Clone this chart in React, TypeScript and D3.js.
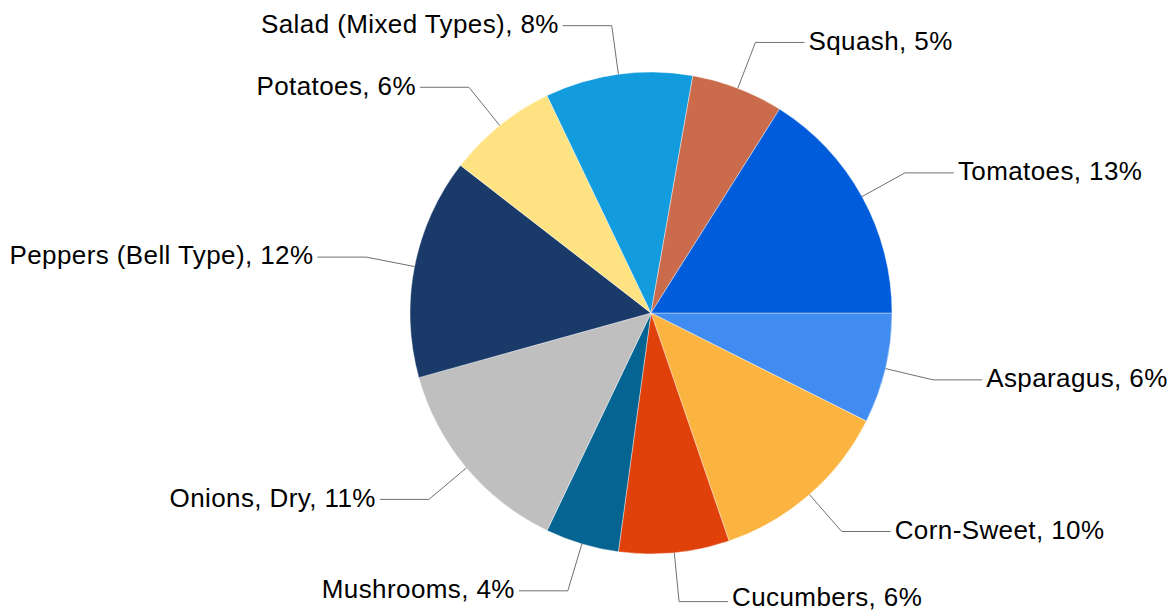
import React from 'react';
import * as d3 from 'd3';

const categories = [
  'Asparagus',
  'Corn-Sweet',
  'Cucumbers',
  'Mushrooms',
  'Onions, Dry',
  'Peppers (Bell Type)',
  'Potatoes',
  'Salad (Mixed Types)',
  'Squash',
  'Tomatoes',
];
const percents = [6, 10, 6, 4, 11, 12, 6, 8, 5, 13];
const colors = [
  '#418CF0', '#FCB441', '#E0400A', '#056492', '#BFBFBF',
  '#1A3B69', '#FFE382', '#129CDD', '#CA6B4B', '#005CDB',
];

const width = 1168;
const height = 614;
const cx = 651;
const cy = 313;
const radius = 241;
const elbowR = 290;
const tail = 49;
const gap = 4;
const fontSize = 26;

export default function App() {
  const rows = categories.map((c, i) => ({ name: c, value: percents[i], color: colors[i] }));

  // start at 3 o'clock, clockwise
  const pie = d3.pie<typeof rows[0]>()
    .value(d => d.value)
    .sort(null)
    .startAngle(Math.PI / 2)
    .endAngle(Math.PI / 2 + 2 * Math.PI);
  const arcs = pie(rows);
  const arc = d3.arc<d3.PieArcDatum<typeof rows[0]>>().innerRadius(0).outerRadius(radius);

  return (
    <svg width={width} height={height} style={{ display: 'block', position: 'absolute', left: 0, top: 0 }}>
      <rect width={width} height={height} fill="#fff" />
      <g transform={`translate(${cx},${cy})`}>
        {arcs.map((a, i) => (
          <path key={i} d={arc(a) || ''} fill={a.data.color} stroke="#fff" strokeWidth={0.4} />
        ))}
        {arcs.map((a, i) => {
          const mid = (a.startAngle + a.endAngle) / 2;
          const sx = Math.sin(mid) * radius;
          const sy = -Math.cos(mid) * radius;
          const ex = Math.sin(mid) * elbowR;
          const ey = -Math.cos(mid) * elbowR;
          const right = ex >= 0;
          const hx = ex + (right ? tail : -tail);
          const tx = hx + (right ? gap : -gap);
          // keep the baseline inside the picture
          const baseline = Math.min(ey + fontSize * 0.28, height - 8 - cy);
          return (
            <g key={'l' + i}>
              <polyline
                points={`${sx},${sy} ${ex},${ey} ${hx},${ey}`}
                fill="none"
                stroke="#707070"
                strokeWidth={1}
              />
              <text
                x={tx}
                y={baseline}
                textAnchor={right ? 'start' : 'end'}
                fontFamily="'Liberation Sans', Arial, sans-serif"
                fontSize={fontSize}
                letterSpacing={0.4}
                fill="#000"
              >
                {`${a.data.name}, ${a.data.value}%`}
              </text>
            </g>
          );
        })}
      </g>
    </svg>
  );
}
